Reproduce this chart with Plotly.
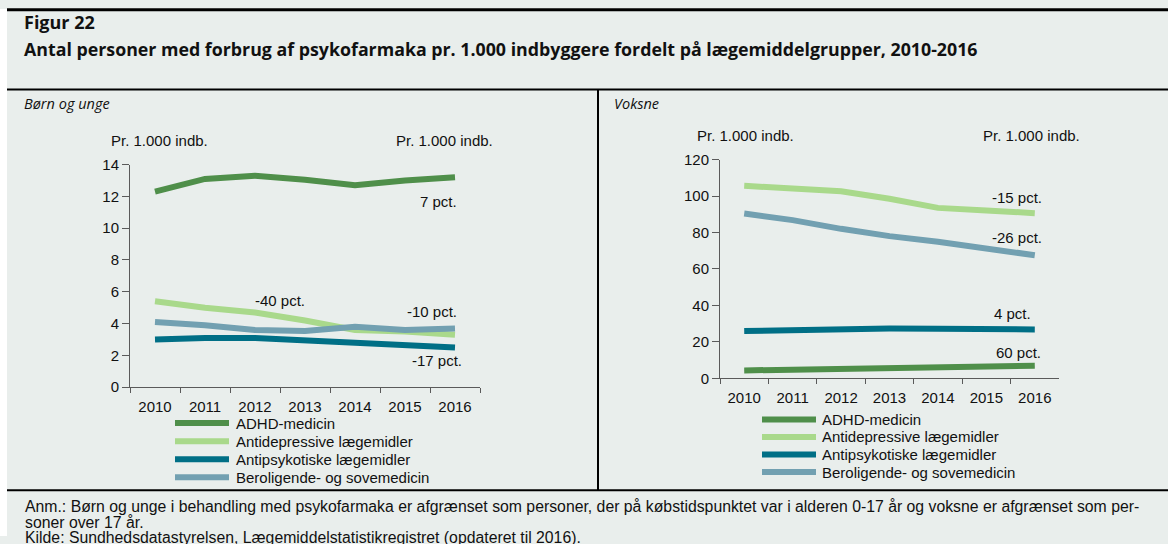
import plotly.graph_objects as go

years = ["2010", "2011", "2012", "2013", "2014", "2015", "2016"]
series_names = ["ADHD-medicin", "Antidepressive lægemidler", "Antipsykotiske lægemidler",
                "Beroligende- og sovemedicin"]
colors = ["#4f8f4a", "#a9d98b", "#006f86", "#72a0b1"]

# Børn og unge (pr. 1.000 indb.)
born_adhd = [12.3, 13.1, 13.3, 13.05, 12.7, 13.0, 13.2]
born_antidep = [5.4, 5.0, 4.7, 4.2, 3.6, 3.5, 3.3]
born_antipsyk = [3.0, 3.1, 3.1, 2.95, 2.75, 2.63, 2.5]
born_berol = [4.1, 3.9, 3.6, 3.53, 3.8, 3.6, 3.7]

# Voksne (pr. 1.000 indb.)
voksne_adhd = [4.3, 4.8, 5.3, 5.6, 5.9, 6.3, 6.9]
voksne_antidep = [105.6, 104.5, 102.6, 98.5, 93.5, 92.1, 90.6]
voksne_antipsyk = [25.9, 26.4, 27.2, 27.3, 27.2, 26.8, 26.8]
voksne_berol = [90.4, 86.8, 82.0, 78.0, 74.9, 71.1, 67.5]

born_labels = ["7 pct.", "-40 pct.", "-10 pct.", "-17 pct."]
voksne_labels = ["60 pct.", "-15 pct.", "4 pct.", "-26 pct."]

W, H = 1168, 544
BG = "#e9eeec"
TXT = "#111111"
AX = "#5a5a5a"
FONT = "Liberation Sans, Arial, sans-serif"
TFONT = "Open Sans, Noto Sans, sans-serif"

# the page shows the figure slightly inset vertically; map target pixel rows accordingly
Y_OFF, Y_SC = 7.2, 0.972


def px(x):
    return x / W


def py(y):
    return 1 - ((y - Y_OFF) / Y_SC) / H


fig = go.Figure()

born = [born_adhd, born_antidep, born_antipsyk, born_berol]
voksne = [voksne_adhd, voksne_antidep, voksne_antipsyk, voksne_berol]
for name, vals, c in zip(series_names, born, colors):
    fig.add_trace(go.Scatter(x=years, y=vals, mode="lines", name=name,
                             line=dict(color=c, width=6), xaxis="x", yaxis="y",
                             showlegend=False, hoverinfo="skip"))
for name, vals, c in zip(series_names, voksne, colors):
    fig.add_trace(go.Scatter(x=years, y=vals, mode="lines", name=name,
                             line=dict(color=c, width=6), xaxis="x2", yaxis="y2",
                             showlegend=False, hoverinfo="skip"))

xcommon = dict(type="category", range=[-0.5, 6.5], showline=True, linecolor=AX, linewidth=1,
               ticks="outside", tickson="boundaries", ticklen=5, tickcolor=AX,
               ticklabelstandoff=6,
               showgrid=False, zeroline=False, tickfont=dict(family=FONT, size=15, color=TXT),
               fixedrange=True)
ycommon = dict(showline=True, linecolor=AX, linewidth=1, ticks="outside", ticklen=7,
               tickcolor=AX, showgrid=False, zeroline=False,
               tickfont=dict(family=FONT, size=15, color=TXT), fixedrange=True)

d1x = [px(130), px(480)]
d1y = [py(386.7), py(163.3)]
d2x = [px(720), px(1059)]
d2y = [py(377.7), py(158.3)]

fig.update_layout(
    width=W, height=H, autosize=False,
    margin=dict(l=0, r=0, t=0, b=0),
    paper_bgcolor=BG, plot_bgcolor="rgba(0,0,0,0)",
    xaxis=dict(domain=d1x, anchor="y", **xcommon),
    yaxis=dict(domain=d1y, anchor="x", range=[0, 14], dtick=2, side="left", **ycommon),
    yaxis3=dict(domain=d1y, anchor="x", overlaying="y", range=[0, 14], dtick=2,
                side="right", **ycommon),
    xaxis2=dict(domain=d2x, anchor="y2", **xcommon),
    yaxis2=dict(domain=d2y, anchor="x2", range=[0, 120], dtick=20, side="left", **ycommon),
    yaxis4=dict(domain=d2y, anchor="x2", overlaying="y2", range=[0, 120], dtick=20,
                side="right", **ycommon),
    showlegend=False,
)

# decorative frame lines
shapes = [
    dict(type="rect", xref="paper", yref="paper", x0=0, x1=px(7), y0=0, y1=1,
         fillcolor="white", line=dict(width=0), layer="below"),
    dict(type="line", xref="paper", yref="paper", x0=px(7), x1=1, y0=py(8), y1=py(8),
         line=dict(color="black", width=3)),
    dict(type="line", xref="paper", yref="paper", x0=px(7), x1=1, y0=py(88), y1=py(88),
         line=dict(color="black", width=2)),
    dict(type="line", xref="paper", yref="paper", x0=px(598), x1=px(598), y0=py(88), y1=py(490),
         line=dict(color="black", width=2)),
    dict(type="line", xref="paper", yref="paper", x0=px(7), x1=1, y0=py(490), y1=py(490),
         line=dict(color="black", width=2)),
]

ann = []


def txt(x, y, s, size=15, family=FONT, xanchor="left", **kw):
    ann.append(dict(x=px(x), y=py(y), xref="paper", yref="paper", text=s, showarrow=False,
                    xanchor=xanchor, yanchor="middle", font=dict(family=family, size=size, color=TXT),
                    **kw))


# legends (key swatches + names built from the series lists)
legend_specs = [(175, 229, 234, [422.7, 440.8, 458.9, 477.0]),
                (762, 816, 820, [419.0, 436.6, 454.2, 471.8])]
for x0, x1, xt, rows in legend_specs:
    for name, c, yy in zip(series_names, colors, rows):
        shapes.append(dict(type="line", xref="paper", yref="paper", x0=px(x0), x1=px(x1),
                           y0=py(yy), y1=py(yy), line=dict(color=c, width=6)))
        txt(xt, yy, name)

fig.update_layout(shapes=shapes)

txt(22, 20, "<b>Figur 22</b>", size=18, family=TFONT)
txt(22, 47, "<b>Antal personer med forbrug af psykofarmaka pr. 1.000 indbyggere fordelt på lægemiddelgrupper, 2010-2016</b>",
    size=17.8, family=TFONT)
txt(22, 102, "<i>Børn og unge</i>", size=14.5, family=TFONT)
txt(612, 102, "<i>Voksne</i>", size=14.5, family=TFONT)

txt(109, 139, "Pr. 1.000 indb.")
txt(394, 139, "Pr. 1.000 indb.")
txt(695, 134, "Pr. 1.000 indb.")
txt(981, 134, "Pr. 1.000 indb.")

txt(23, 506, "Anm.: Børn og unge i behandling med psykofarmaka er afgrænset som personer, der på købstidspunktet var i alderen 0-17 år og voksne er afgrænset som per-",
    size=15.8)
txt(23, 522, "soner over 17 år.", size=15.8)
txt(23, 537, "Kilde: Sundhedsdatastyrelsen, Lægemiddelstatistikregistret (opdateret til 2016).",
    size=15.8)

# pct labels in axis coordinates
born_pos = [(5.66, 11.7), (2.5, 5.43), (5.54, 4.74), (5.64, 1.67)]
for s, (xx, yy) in zip(born_labels, born_pos):
    ann.append(dict(x=xx, y=yy, xref="x", yref="y", text=s, showarrow=False,
                    font=dict(family=FONT, size=15, color=TXT)))
voksne_pos = [(5.67, 14.1), (5.63, 99.4), (5.55, 35.4), (5.63, 77.0)]
for s, (xx, yy) in zip(voksne_labels, voksne_pos):
    ann.append(dict(x=xx, y=yy, xref="x2", yref="y2", text=s, showarrow=False,
                    font=dict(family=FONT, size=15, color=TXT)))

fig.update_layout(annotations=ann)

post = """
(function(){
  var st = document.createElement('style');
  st.textContent = 'html,body{margin:0!important;padding:0!important;overflow:hidden!important;}';
  document.head.appendChild(st);
  var gd = document.getElementById('{plot_id}');
  if (gd) {
    gd.style.position='absolute'; gd.style.left='0px'; gd.style.top='0px';
  }
})();
"""
fig.write_html("out.html", post_script=post,
               config={"responsive": False, "displayModeBar": False})
